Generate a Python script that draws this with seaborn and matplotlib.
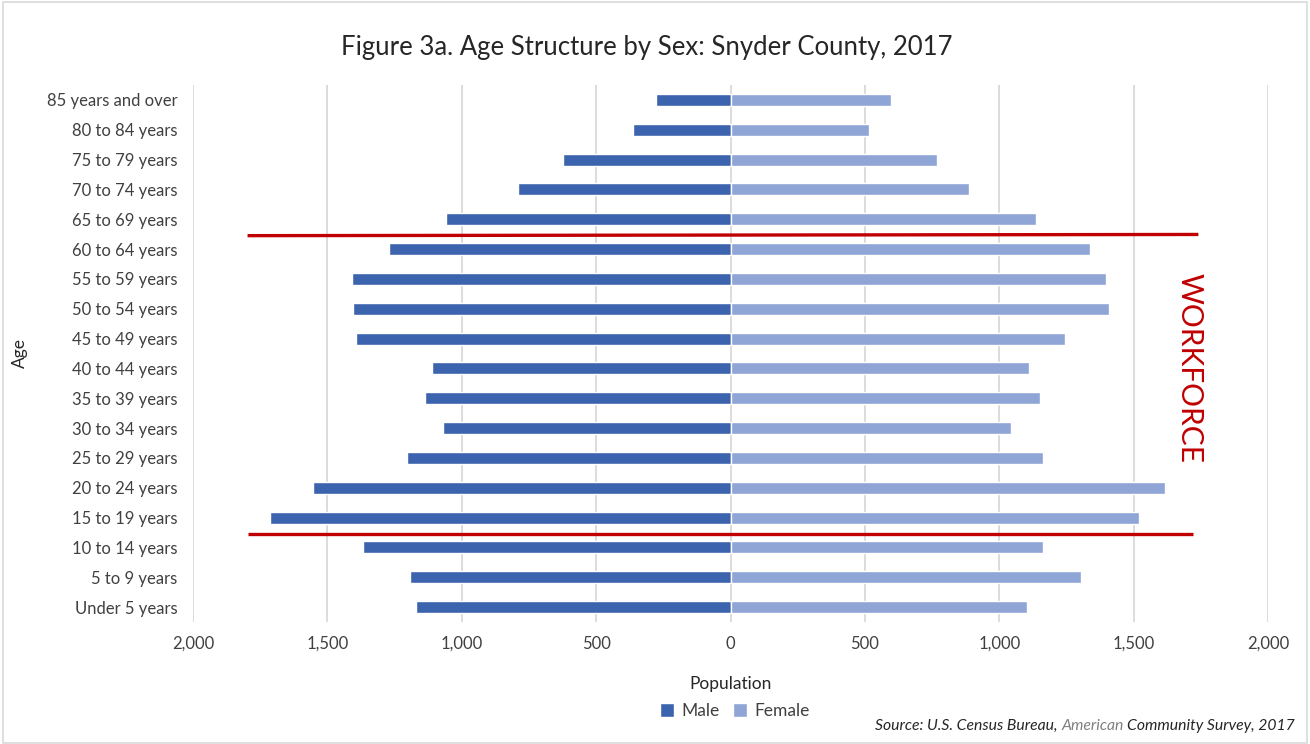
import matplotlib
matplotlib.use("Agg")
import matplotlib.pyplot as plt
import matplotlib.patches as mpatches
import pandas as pd
import seaborn as sns

# age groups, top of the chart first
ages = ["85 years and over", "80 to 84 years", "75 to 79 years", "70 to 74 years",
        "65 to 69 years", "60 to 64 years", "55 to 59 years", "50 to 54 years",
        "45 to 49 years", "40 to 44 years", "35 to 39 years", "30 to 34 years",
        "25 to 29 years", "20 to 24 years", "15 to 19 years", "10 to 14 years",
        "5 to 9 years", "Under 5 years"]
male = [279, 361, 625, 789, 1057, 1272, 1410, 1406, 1395, 1112, 1135, 1068,
        1202, 1555, 1715, 1369, 1194, 1172]
female = [599, 517, 770, 889, 1138, 1336, 1399, 1410, 1246, 1112, 1150, 1045,
          1161, 1615, 1521, 1161, 1306, 1105]
x_ticks = [-2000, -1500, -1000, -500, 0, 500, 1000, 1500, 2000]

MALE_C = "#3C64AE"
FEMALE_C = "#8EA5D6"
RED = "#C00000"

df = pd.DataFrame({
    "Age": ages * 2,
    "Population": [-v for v in male] + female,
    "Sex": ["Male"] * len(ages) + ["Female"] * len(ages),
})

sns.set_theme(style="white")
plt.rcParams["font.family"] = ["Lato", "DejaVu Sans"]

fig = plt.figure(figsize=(13.1, 7.44), dpi=100)
ax = fig.add_axes([193 / 1310, 1 - 622 / 744, (1268 - 193) / 1310, (622 - 85) / 744])

sns.barplot(data=df, y="Age", x="Population", hue="Sex", order=ages,
            palette={"Male": MALE_C, "Female": FEMALE_C}, dodge=False,
            width=0.4, saturation=1, orient="h", ax=ax)

handles, labels = ax.get_legend_handles_labels()
ax.get_legend().remove()

ax.set_xlim(-2000, 2000)
ax.set_ylim(len(ages) - 0.5, -0.5)
ax.set_xticks(x_ticks)
ax.set_xticklabels([f"{abs(t):,}" for t in x_ticks], fontsize=12, color="#404040")
ax.tick_params(axis="y", labelsize=12, labelcolor="#404040", length=0, pad=11)
ax.tick_params(axis="x", length=0, pad=10)
ax.xaxis.grid(True, color="#D9D9D9", linewidth=1.3)
ax.set_axisbelow(True)
for s in ax.spines.values():
    s.set_visible(False)

ax.set_xlabel("Population", fontsize=12.5, color="#262626", labelpad=17)
ax.set_ylabel("Age", fontsize=12.5, color="#262626", labelpad=14)

# workforce band markers
ax.plot([-1797, 1741], [4.55, 4.51], color=RED, linewidth=2.4, solid_capstyle="butt")
ax.plot([-1797, 1720], [14.55, 14.55], color=RED, linewidth=2.4, solid_capstyle="butt")
ax.text(1707, 9.0, "WORKFORCE", rotation=-90, color=RED, fontsize=21.5,
        ha="center", va="center")

fig.suptitle("Figure 3a. Age Structure by Sex: Snyder County, 2017",
             x=647 / 1310, y=1 - 47 / 744, va="center", fontsize=18.5, color="#262626")

fig.legend(handles, labels, loc="center", bbox_to_anchor=(735 / 1310, 1 - 711 / 744),
           ncol=2, frameon=False, fontsize=12.5, handlelength=0.8, handleheight=0.8,
           columnspacing=0.8, handletextpad=0.4, labelcolor="#404040")

# source line, with "American" in grey
t1 = fig.text(1295 / 1310, 1 - 726 / 744, "Community Survey, 2017", ha="right",
              va="center", fontsize=11.3, style="italic", color="#262626")
t2 = ax.annotate("American ", xy=(0, 0), xycoords=t1, ha="right", va="bottom",
                 fontsize=11.3, style="italic", color="#808080", annotation_clip=False)
t3 = ax.annotate("Source: U.S. Census Bureau, ", xy=(0, 0), xycoords=t2, ha="right",
                 va="bottom", fontsize=11.3, style="italic", color="#262626",
                 annotation_clip=False)

fig.patches.append(mpatches.Rectangle((0.002, 0.002), 0.996, 0.995, transform=fig.transFigure,
                                      fill=False, edgecolor="#D9D9D9", linewidth=1.2))

fig.savefig("out.png", dpi=100)
